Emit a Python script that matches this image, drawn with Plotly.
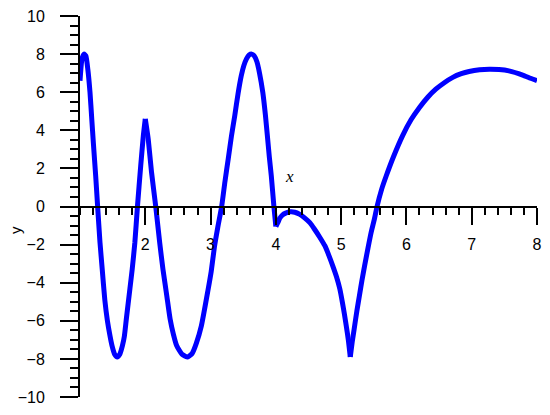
import plotly.graph_objects as go

# curve
x_vals = [1.0, 1.03, 1.06, 1.09, 1.12, 1.153, 1.18, 1.204, 1.24, 1.27, 1.306, 1.34, 1.38,
          1.42, 1.46, 1.49, 1.53, 1.57, 1.61, 1.65, 1.68, 1.71, 1.765, 1.80, 1.84, 1.88,
          1.93, 1.97, 2.0,
          2.045, 2.096, 2.16, 2.22, 2.27, 2.33, 2.38, 2.43, 2.48, 2.56, 2.65, 2.72, 2.78,
          2.86, 2.96, 3.01, 3.06, 3.11, 3.17, 3.22, 3.27, 3.32, 3.37, 3.42, 3.47, 3.51,
          3.55, 3.59, 3.63, 3.67, 3.71, 3.75, 3.80, 3.84, 3.87, 3.90, 3.93, 3.97, 4.0,
          4.03, 4.06, 4.10, 4.15, 4.22, 4.29, 4.36, 4.44, 4.52, 4.59, 4.67, 4.75, 4.81,
          4.87, 4.93, 4.98, 5.02, 5.05, 5.08, 5.11, 5.14,
          5.17, 5.20, 5.24, 5.28, 5.32, 5.36, 5.41, 5.46, 5.51, 5.55, 5.62, 5.69, 5.80,
          5.94, 6.07, 6.20, 6.33, 6.45, 6.58, 6.71, 6.84, 6.96, 7.12, 7.27, 7.42, 7.57,
          7.78, 7.90, 8.0]
y_vals = [6.6, 7.75, 8.0, 7.9, 7.2, 6.0, 4.6, 3.37, 1.62, 0.0, -1.88, -3.28, -4.9,
          -6.0, -6.8, -7.3, -7.75, -7.9, -7.75, -7.3, -6.8, -5.9, -4.3, -3.28, -1.9, 0.0,
          2.14, 3.71, 4.6,
          3.54, 1.79, 0.0, -1.88, -3.28, -4.7, -5.9, -6.7, -7.3, -7.75, -7.9, -7.7, -7.2,
          -6.25, -4.4, -3.4, -2.1, -1.1, 0.0, 1.3, 2.49, 3.7, 4.76, 5.9, 6.86, 7.4,
          7.75, 7.95, 8.0, 7.9, 7.6, 7.0, 5.99, 4.8, 3.71, 2.6, 1.62, 0.0, -1.05,
          -0.85, -0.62, -0.45, -0.35, -0.28, -0.3, -0.4, -0.6, -0.85, -1.18, -1.6, -2.06, -2.55,
          -3.1, -3.7, -4.33, -5.05, -5.65, -6.3, -7.0, -7.9,
          -7.1, -6.42, -5.5, -4.68, -3.85, -3.1, -2.2, -1.35, -0.65, 0.0, 0.9, 1.6, 2.6,
          3.71, 4.55, 5.2, 5.75, 6.16, 6.5, 6.78, 6.97, 7.09, 7.18, 7.21, 7.19, 7.12,
          6.9, 6.73, 6.6]

# x positions of the sharp corners of the curve
cusps = [2.0, 4.0, 5.14]

x_ticks = [2, 3, 4, 5, 6, 7, 8]
y_ticks = [-10, -8, -6, -4, -2, 0, 2, 4, 6, 8, 10]

fig = go.Figure()

# draw the curve piece by piece so the corners stay sharp
bounds = [0] + [x_vals.index(c) for c in cusps] + [len(x_vals) - 1]
for a, b in zip(bounds[:-1], bounds[1:]):
    fig.add_trace(go.Scatter(x=x_vals[a:b + 1], y=y_vals[a:b + 1], mode='lines',
                             line=dict(color='#0000ff', width=5, shape='spline', smoothing=0.5),
                             showlegend=False))

tick_font = dict(family='Liberation Sans, Arial', size=16, color='black')

# page body has an 8px margin, so the figure is 8px smaller and margins shifted
W, H = 542, 407
ML, MR, MT, MB = 72, 13, 8, 18

fig.update_layout(
    width=W, height=H,
    margin=dict(l=ML, r=MR, t=MT, b=MB),
    plot_bgcolor='white', paper_bgcolor='white',
    xaxis=dict(range=[1, 8], tickvals=x_ticks, showgrid=False, zeroline=False,
               showline=True, linecolor='black', linewidth=2,
               ticks='outside', ticklen=17, tickwidth=2, tickcolor='black',
               minor=dict(dtick=0.2, ticks='outside', ticklen=7, tickwidth=2,
                          tickcolor='black', showgrid=False),
               anchor='free', position=0.5, automargin=False,
               ticklabeloverflow='allow',
               tickfont=tick_font, ticklabelstandoff=6),
    yaxis=dict(range=[-10, 10], tickvals=y_ticks, showgrid=False, zeroline=False,
               showline=True, linecolor='black', linewidth=2,
               ticks='outside', ticklen=18, tickwidth=2, tickcolor='black',
               minor=dict(dtick=0.5, ticks='outside', ticklen=8, tickwidth=2,
                          tickcolor='black', showgrid=False),
               automargin=False, ticklabeloverflow='allow',
               tickfont=tick_font, ticklabelstandoff=12),
    annotations=[
        dict(text='x', x=4.21, y=1.6, xref='x', yref='y', showarrow=False,
             font=dict(family='Liberation Serif', size=17, color='black', style='italic')),
        dict(text='y', xref='paper', yref='paper', showarrow=False,
             xanchor='center', yanchor='middle',
             x=(15 - 8 - ML) / (W - ML - MR),
             y=1 - (230 - 8 - MT) / (H - MT - MB),
             textangle=-90, font=dict(family='Liberation Sans, Arial', size=15, color='black')),
    ],
)

fig.write_html("out.html")
